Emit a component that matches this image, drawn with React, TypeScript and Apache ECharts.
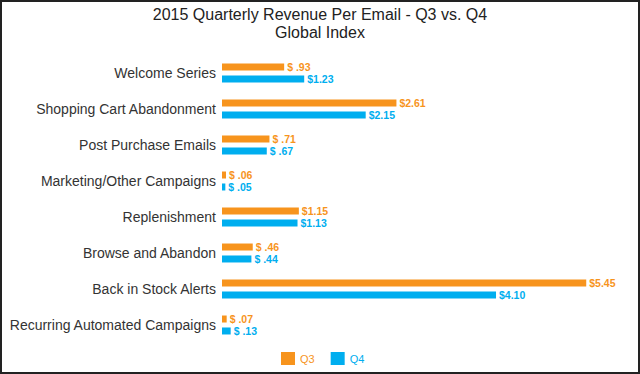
import React, { useEffect, useRef } from "react";
import * as echarts from "echarts";

const categories = [
  "Welcome Series",
  "Shopping Cart Abandonment",
  "Post Purchase Emails",
  "Marketing/Other Campaigns",
  "Replenishment",
  "Browse and Abandon",
  "Back in Stock Alerts",
  "Recurring Automated Campaigns",
];
const q3Values = [0.93, 2.61, 0.71, 0.06, 1.15, 0.46, 5.45, 0.07];
const q4Values = [1.23, 2.15, 0.67, 0.05, 1.13, 0.44, 4.1, 0.13];
const seriesNames = ["Q3", "Q4"];
const titleText = "2015 Quarterly Revenue Per Email - Q3 vs. Q4\nGlobal Index";

const ORANGE = "#F7941D";
const BLUE = "#00AEEF";
const FONT = "Liberation Sans, Arial, sans-serif";

const fmt = (v: number) =>
  v < 1 ? "$ " + v.toFixed(2).slice(1) : "$" + v.toFixed(2);

export default function App() {
  const ref = useRef<HTMLDivElement>(null);
  useEffect(() => {
    document.body.style.margin = "0";
    const chart = echarts.init(ref.current!, null, { renderer: "svg" });
    const mkSeries = (name: string, data: number[], color: string) => ({
      name,
      type: "bar",
      data,
      barWidth: 7,
      barGap: "71%",
      itemStyle: { color },
      label: {
        show: true,
        position: "right",
        distance: 3,
        color,
        fontSize: 10.5,
        fontWeight: "bold",
        fontFamily: FONT,
        formatter: (p: any) => fmt(p.value),
      },
    });
    chart.setOption({
      animation: false,
      textStyle: { fontFamily: FONT },
      title: {
        text: titleText,
        left: "center",
        top: 0,
        textStyle: {
          fontSize: 16,
          fontWeight: "normal",
          color: "#222",
          lineHeight: 18,
          fontFamily: FONT,
        },
      },
      legend: {
        data: [
          { name: "Q3", textStyle: { color: ORANGE } },
          { name: "Q4", textStyle: { color: BLUE } },
        ],
        left: 276,
        top: 347,
        itemWidth: 14,
        itemHeight: 13,
        itemGap: 16,
        icon: "rect",
        textStyle: { fontSize: 11, fontFamily: FONT },
      },
      grid: { left: 222, right: 17, top: 55, bottom: 31, containLabel: false },
      xAxis: {
        type: "value",
        min: 0,
        max: 6,
        show: false,
        splitLine: { show: false },
      },
      yAxis: {
        type: "category",
        data: categories,
        inverse: true,
        axisLine: { show: false },
        axisTick: { show: false },
        axisLabel: {
          margin: 6,
          fontSize: 14,
          color: "#333",
          fontFamily: FONT,
        },
      },
      graphic: [
        {
          type: "rect",
          shape: { x: 1, y: 1, width: 638, height: 372 },
          style: { fill: "none", stroke: "#222", lineWidth: 2 },
          silent: true,
        },
      ],
      series: [
        mkSeries(seriesNames[0], q3Values, ORANGE),
        mkSeries(seriesNames[1], q4Values, BLUE),
      ],
    });
    return () => chart.dispose();
  }, []);
  return <div ref={ref} style={{ width: 640, height: 374 }} />;
}
